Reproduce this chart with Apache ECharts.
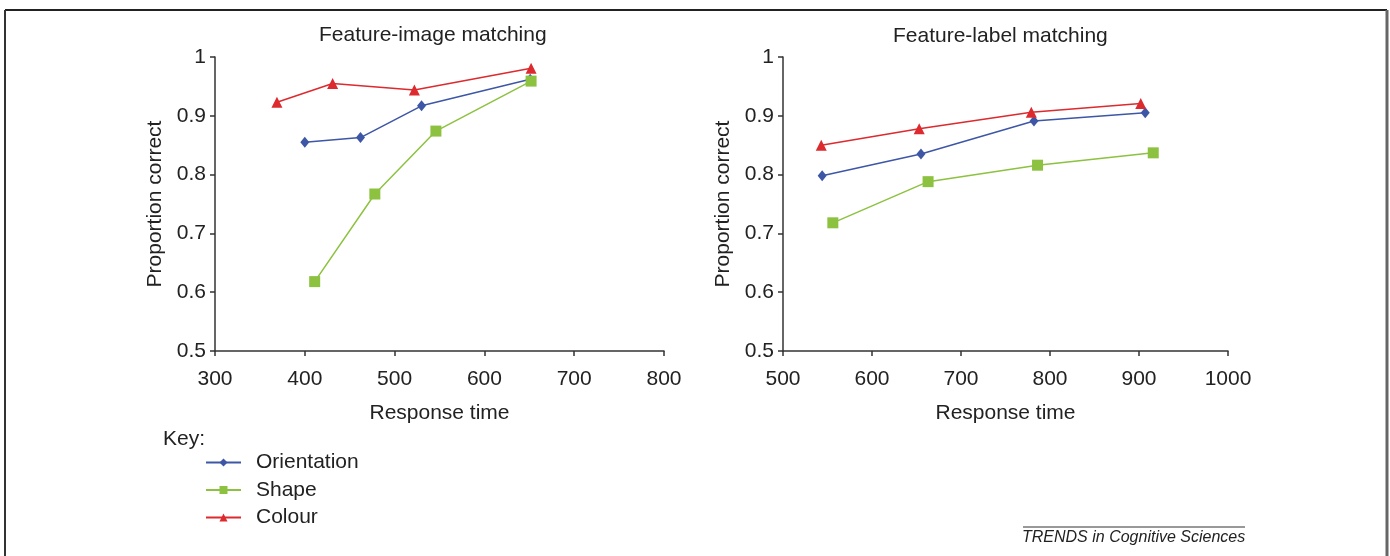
<!DOCTYPE html>
<html>
<head>
<meta charset="utf-8">
<script src="https://cdn.jsdelivr.net/npm/echarts@6/dist/echarts.min.js"></script>
<style>
    html, body { margin: 0; padding: 0; background: #fff; }
    #chart { width: 1390px; height: 556px; }
</style>
</head>
<body>
<div id="chart"></div>
<script>
// values: [response time, proportion correct]
const seriesNames = ['Orientation', 'Shape', 'Colour'];

const imageOrientation = [[400, 0.855], [462, 0.863], [530, 0.917], [651, 0.962]];
const imageShape = [[411, 0.618], [478, 0.767], [546, 0.874], [652, 0.959]];
const imageColour = [[369, 0.923], [431, 0.955], [522, 0.944], [652, 0.981]];

const labelOrientation = [[544, 0.798], [655, 0.835], [782, 0.891], [907, 0.905]];
const labelShape = [[556, 0.718], [663, 0.788], [786, 0.816], [916, 0.837]];
const labelColour = [[543, 0.850], [653, 0.878], [779, 0.906], [902, 0.921]];

const imageTicks = [300, 800, 100];
const labelTicks = [500, 1000, 100];
const yTicks = [0.5, 1, 0.1];

const colors = { Orientation: '#3d56a6', Shape: '#8cc23f', Colour: '#dc2a2e' };
const symbols = { Orientation: 'diamond', Shape: 'rect', Colour: 'triangle' };
const symbolSizes = { Orientation: [9, 11], Shape: 11, Colour: 11 };

const font = 'Liberation Sans, Arial, sans-serif';
const fs = 21;

function makeSeries(name, data, idx) {
    return {
        name: name,
        type: 'line',
        xAxisIndex: idx,
        yAxisIndex: idx,
        data: data,
        symbol: symbols[name],
        symbolSize: symbolSizes[name],
        itemStyle: { color: colors[name] },
        lineStyle: { color: colors[name], width: 1.5 },
        z: name === 'Shape' ? 3 : 2
    };
}

function xAxisFor(ticks, idx) {
    return {
        type: 'value', gridIndex: idx,
        min: ticks[0], max: ticks[1], interval: ticks[2],
        name: 'Response time', nameLocation: 'middle', nameGap: 52,
        nameTextStyle: { fontSize: fs, color: '#222', fontFamily: font },
        axisLine: { lineStyle: { color: '#333', width: 1.5 } },
        axisTick: { show: true, inside: false, length: 5, lineStyle: { color: '#333', width: 1.5 } },
        axisLabel: { fontSize: fs, color: '#222', margin: 18, fontFamily: font, formatter: v => String(v) },
        splitLine: { show: false }
    };
}

function yAxisFor(idx) {
    return {
        type: 'value', gridIndex: idx,
        min: yTicks[0], max: yTicks[1], interval: yTicks[2],
        name: 'Proportion correct', nameLocation: 'middle', nameRotate: 90, nameGap: 49,
        nameTextStyle: { fontSize: fs, color: '#222', fontFamily: font },
        axisLine: { show: true, lineStyle: { color: '#333', width: 1.5 } },
        axisTick: { show: true, inside: false, length: 5, lineStyle: { color: '#333', width: 1.5 } },
        axisLabel: { fontSize: fs, color: '#222', margin: 9, fontFamily: font },
        splitLine: { show: false }
    };
}

const chart = echarts.init(document.getElementById('chart'));
chart.setOption({
    backgroundColor: '#fff',
    animation: false,
    grid: [
        { left: 215, top: 57, width: 449, height: 294 },
        { left: 783, top: 57, width: 445, height: 294 }
    ],
    xAxis: [xAxisFor(imageTicks, 0), xAxisFor(labelTicks, 1)],
    yAxis: [yAxisFor(0), yAxisFor(1)],
    legend: {
        data: seriesNames,
        orient: 'vertical',
        left: 205, top: 452, padding: 0,
        itemWidth: 35, itemHeight: 10, itemGap: 6.5,
        textStyle: { fontSize: fs, color: '#222', fontFamily: font, padding: [0, 0, 0, 10] }
    },
    graphic: [
        { type: 'line', shape: { x1: 5, y1: 10, x2: 1387, y2: 10 }, style: { stroke: '#222', lineWidth: 2 } },
        { type: 'line', shape: { x1: 5, y1: 10, x2: 5, y2: 556 }, style: { stroke: '#333', lineWidth: 2 } },
        { type: 'line', shape: { x1: 1387, y1: 10, x2: 1387, y2: 556 }, style: { stroke: '#666', lineWidth: 3 } },
        { type: 'text', left: 319, top: 25, style: { text: 'Feature-image matching', fontSize: fs, fill: '#222', fontFamily: font } },
        { type: 'text', left: 893, top: 26, style: { text: 'Feature-label matching', fontSize: fs, fill: '#222', fontFamily: font } },
        { type: 'text', left: 163, top: 429, style: { text: 'Key:', fontSize: fs, fill: '#222', fontFamily: font } },
        { type: 'line', shape: { x1: 1023, y1: 527, x2: 1245, y2: 527 }, style: { stroke: '#333', lineWidth: 1 } },
        { type: 'text', left: 1022, top: 530, style: { text: 'TRENDS in Cognitive Sciences', fontSize: 16, fontStyle: 'italic', fill: '#222', fontFamily: font } }
    ],
    series: [
        makeSeries('Orientation', imageOrientation, 0),
        makeSeries('Shape', imageShape, 0),
        makeSeries('Colour', imageColour, 0),
        makeSeries('Orientation', labelOrientation, 1),
        makeSeries('Shape', labelShape, 1),
        makeSeries('Colour', labelColour, 1)
    ]
});
window.onresize = () => chart.resize();
</script>
</body>
</html>
